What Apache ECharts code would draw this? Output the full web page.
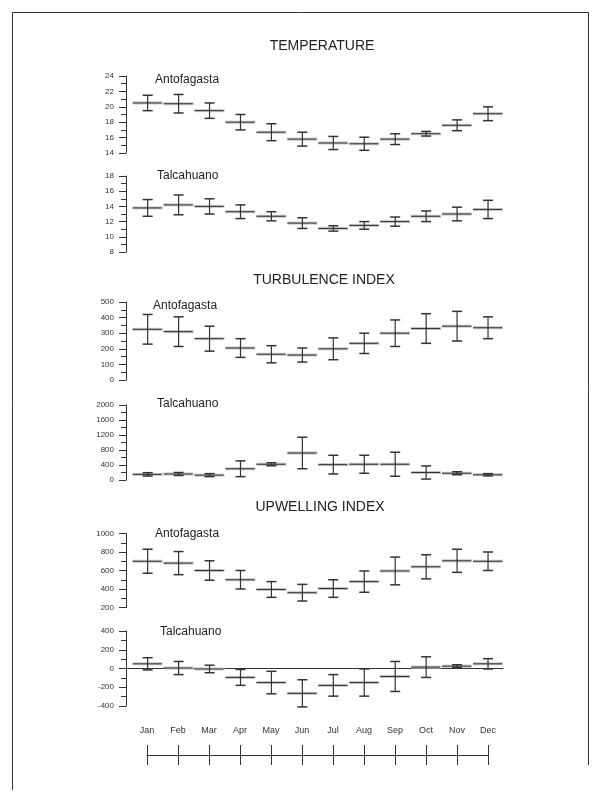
<!DOCTYPE html>
<html><head><meta charset="utf-8">
<script src="https://cdn.jsdelivr.net/npm/echarts@6/dist/echarts.min.js"></script>
<style>html,body{margin:0;padding:0;background:#fff}#c{width:599px;height:799px}</style>
</head><body><div id="c"></div>
<script>
const months = ['Jan','Feb','Mar','Apr','May','Jun','Jul','Aug','Sep','Oct','Nov','Dec'];

const tempAntoMean = [20.5,20.4,19.5,18.0,16.7,15.8,15.3,15.2,15.8,16.5,17.6,19.1];
const tempAntoErr  = [1.0,1.2,1.0,1.0,1.1,0.9,0.85,0.85,0.7,0.3,0.7,0.9];
const tempTalcMean = [13.8,14.2,14.0,13.3,12.7,11.8,11.1,11.5,12.0,12.7,13.0,13.6];
const tempTalcErr  = [1.1,1.3,1.0,0.9,0.6,0.7,0.35,0.5,0.6,0.7,0.9,1.2];
const turbAntoMean = [325,310,265,205,165,160,200,235,300,330,345,335];
const turbAntoErr  = [95,95,80,60,55,45,70,65,85,95,95,70];
const turbTalcMean = [150,160,130,300,420,720,410,420,420,200,180,140];
const turbTalcErr  = [45,40,40,210,40,420,250,240,320,175,40,30];
const upwAntoMean  = [700,680,600,500,395,360,405,480,595,640,705,700];
const upwAntoErr   = [130,125,105,100,85,90,95,115,150,130,125,100];
const upwTalcMean  = [50,5,-5,-95,-150,-265,-180,-150,-85,15,25,50];
const upwTalcErr   = [65,70,40,85,120,145,115,145,160,110,15,55];

const yTicks = [
  {min:14,max:24,interval:2},
  {min:8,max:18,interval:2},
  {min:0,max:500,interval:100},
  {min:0,max:2000,interval:400},
  {min:200,max:1000,interval:200},
  {min:-400,max:400,interval:200}
];
const panels = [
  {mean:tempAntoMean, err:tempAntoErr, top:76, h:77},
  {mean:tempTalcMean, err:tempTalcErr, top:176, h:76},
  {mean:turbAntoMean, err:turbAntoErr, top:302, h:78},
  {mean:turbTalcMean, err:turbTalcErr, top:405, h:75},
  {mean:upwAntoMean, err:upwAntoErr, top:533.5, h:74},
  {mean:upwTalcMean, err:upwTalcErr, top:631, h:75}
];
const titles = [
  {text:'TEMPERATURE', cx:322, cy:47},
  {text:'TURBULENCE INDEX', cx:324, cy:281},
  {text:'UPWELLING INDEX', cx:320, cy:508}
];
const subtitles = [
  {text:'Antofagasta', left:155, cy:81},
  {text:'Talcahuano', left:157, cy:177},
  {text:'Antofagasta', left:153, cy:307},
  {text:'Talcahuano', left:157, cy:405},
  {text:'Antofagasta', left:155, cy:535},
  {text:'Talcahuano', left:160, cy:633}
];

const FONT = '"Liberation Sans", Arial, sans-serif';
const chart = echarts.init(document.getElementById('c'), null, {renderer:'canvas'});

function renderItem(params, api){
  const x = api.value(0), m = api.value(1), lo = api.value(2), hi = api.value(3);
  const pm = api.coord([x,m]), pl = api.coord([x,lo]), ph = api.coord([x,hi]);
  const cx = pm[0];
  return {type:'group', children:[
    {type:'line', shape:{x1:cx-15,y1:pm[1],x2:cx+15,y2:pm[1]}, style:{stroke:'#c4c4c4',lineWidth:3}},
    {type:'line', shape:{x1:cx-15,y1:pm[1],x2:cx+14,y2:pm[1]}, style:{stroke:'#333',lineWidth:1}},
    {type:'line', shape:{x1:cx,y1:pl[1],x2:cx,y2:ph[1]}, style:{stroke:'#333',lineWidth:1.2}},
    {type:'line', shape:{x1:cx-5,y1:pl[1],x2:cx+5,y2:pl[1]}, style:{stroke:'#333',lineWidth:1.5}},
    {type:'line', shape:{x1:cx-5,y1:ph[1],x2:cx+5,y2:ph[1]}, style:{stroke:'#333',lineWidth:1.5}}
  ]};
}

const grid = [], xAxis = [], yAxis = [], series = [];
panels.forEach((p, i) => {
  grid.push({left:126, width:377.5, top:p.top, height:p.h});
  xAxis.push({type:'value', gridIndex:i, min:-0.7, max:11.5, show:false, axisLine:{onZero:false}});
  const t = yTicks[i];
  yAxis.push({type:'value', gridIndex:i, min:t.min, max:t.max, interval:t.interval,
    axisLine:{show:true, onZero:false, lineStyle:{color:'#333', width:1}},
    axisTick:{show:true, length:7, lineStyle:{color:'#333'}},
    minorTick:{show:true, splitNumber:2, length:5, lineStyle:{color:'#333'}},
    splitLine:{show:false},
    axisLabel:{fontSize:8, color:'#333', fontFamily:FONT, margin:12, formatter:v => String(v)}
  });
  series.push({type:'custom', xAxisIndex:i, yAxisIndex:i, clip:false,
    renderItem:renderItem,
    data: p.mean.map((m, k) => [k, m, m - p.err[k], m + p.err[k]])
  });
});
// zero line in last panel
series.push({type:'line', xAxisIndex:5, yAxisIndex:5, symbol:'none', silent:true,
  lineStyle:{color:'#333', width:1.2}, data:[[-0.7,0],[11.5,0]], z:1});

// month axis panel
grid.push({left:147, width:341, top:745, height:10});
xAxis.push({type:'category', gridIndex:6, data:months, boundaryGap:false, position:'top',
  axisLine:{show:false, onZero:false}, axisTick:{show:true, inside:true, length:10, lineStyle:{color:'#333'}},
  axisLabel:{fontSize:9, color:'#333', fontFamily:FONT, margin:10}});
xAxis.push({type:'category', gridIndex:6, data:months, boundaryGap:false, position:'bottom',
  axisLine:{show:true, onZero:false, lineStyle:{color:'#333', width:1.2}},
  axisTick:{show:true, length:10, lineStyle:{color:'#333'}},
  axisLabel:{show:false}});
yAxis.push({type:'value', gridIndex:6, show:false, min:0, max:1, axisLine:{onZero:false}});

const title = [];
titles.forEach(t => title.push({text:t.text, left:t.cx, top:t.cy - 8, padding:0, textAlign:'center',
  textStyle:{fontSize:14, fontWeight:'normal', color:'#222', fontFamily:FONT}}));
subtitles.forEach(t => title.push({text:t.text, left:t.left, top:t.cy - 7, padding:0,
  textStyle:{fontSize:12, fontWeight:'normal', color:'#222', fontFamily:FONT}}));

chart.setOption({
  animation:false,
  backgroundColor:'#fff',
  title, grid, xAxis, yAxis, series,
  graphic:[
    {type:'line', shape:{x1:12.5,y1:12.5,x2:588.5,y2:12.5}, style:{stroke:'#333',lineWidth:1}},
    {type:'line', shape:{x1:12.5,y1:12.5,x2:12.5,y2:790}, style:{stroke:'#333',lineWidth:1}},
    {type:'line', shape:{x1:588.5,y1:12.5,x2:588.5,y2:765}, style:{stroke:'#333',lineWidth:1}}
  ]
});
</script></body></html>
